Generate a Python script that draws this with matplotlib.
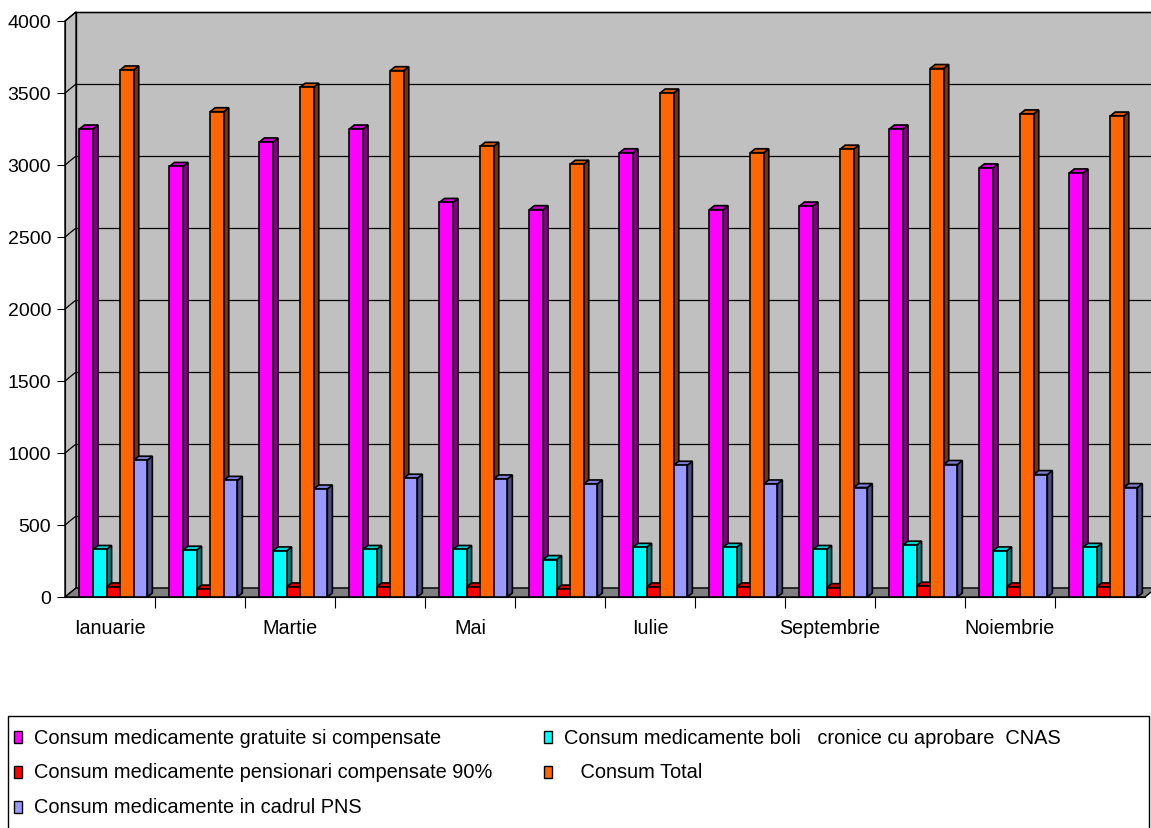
import matplotlib.pyplot as plt
from matplotlib.patches import Polygon, Rectangle
import numpy as np

plt.rcParams['font.family'] = ['Liberation Sans', 'DejaVu Sans']

# date
luni = ['Ianuarie', 'Februarie', 'Martie', 'Aprilie', 'Mai', 'Iunie', 'Iulie',
        'August', 'Septembrie', 'Octombrie', 'Noiembrie', 'Decembrie']
gratuite = [3250, 2990, 3160, 3250, 2740, 2690, 3085, 2690, 2715, 3250, 2980, 2945]
cronice = [330, 325, 320, 330, 330, 260, 345, 345, 330, 360, 320, 345]
pensionari = [70, 55, 70, 70, 70, 55, 70, 70, 65, 75, 70, 70]
total = [3660, 3370, 3540, 3655, 3130, 3005, 3500, 3085, 3110, 3670, 3355, 3340]
pns = [950, 810, 750, 825, 820, 785, 915, 785, 760, 920, 850, 760]

serii = ['Consum medicamente gratuite si compensate',
         'Consum medicamente boli   cronice cu aprobare  CNAS',
         'Consum medicamente pensionari compensate 90%',
         '   Consum Total',
         'Consum medicamente in cadrul PNS']
valori = [gratuite, cronice, pensionari, total, pns]
culori = ['#FF00FF', '#00FFFF', '#FF0000', '#FF6600', '#9999FF']
laturi = ['#800080', '#008080', '#800000', '#803300', '#4C4C80']

W, H = 1151, 829
fig = plt.figure(figsize=(W / 100, H / 100), dpi=100)
ax = fig.add_axes([65 / W, 231 / H, 1080 / W, 576 / H])
ax.set_xlim(-0.5, 11.5)
ax.set_ylim(0, 4000)
ax.patch.set_visible(False)

# conversie pixeli -> unitati de date
px_x = 1 / 90.0
px_y = 4000 / 576.0

# pereti (efect 3D)
wdx, wdy = 11 * px_x, 9 * px_y
xr = 11.5
ax.add_patch(Polygon([(-0.5 + wdx, wdy), (xr + wdx, wdy), (xr + wdx, 4000 + wdy),
                      (-0.5 + wdx, 4000 + wdy)], closed=True, fc='#C0C0C0',
                     ec='black', lw=1, clip_on=False, zorder=0))
ax.add_patch(Polygon([(-0.5, 0), (-0.5 + wdx, wdy), (-0.5 + wdx, 4000 + wdy),
                      (-0.5, 4000)], closed=True, fc='#C0C0C0', ec='black',
                     lw=1, clip_on=False, zorder=0.5))
ax.add_patch(Polygon([(-0.5, 0), (xr, 0), (xr + wdx, wdy), (-0.5 + wdx, wdy)],
                     closed=True, fc='#808080', ec='black', lw=1,
                     clip_on=False, zorder=0.6))
for v in range(500, 4001, 500):
    ax.plot([-0.5 + wdx, xr + wdx], [v + wdy, v + wdy], color='black', lw=0.9,
            clip_on=False, zorder=0.4)
    ax.plot([-0.5, -0.5 + wdx], [v, v + wdy], color='black', lw=0.9,
            clip_on=False, zorder=0.7)

# bare 3D
bw = 0.151
ddx, ddy = 5 * px_x, 4 * px_y
x0 = np.arange(len(luni)) - 0.5 + 0.16
z = 2
for i in range(len(luni)):
    for k in range(len(valori)):
        xl = x0[i] + k * bw
        v = valori[k][i]
        ax.add_patch(Polygon([(xl + bw, 0), (xl + bw + ddx, ddy),
                              (xl + bw + ddx, v + ddy), (xl + bw, v)],
                             closed=True, fc=laturi[k], ec='black', lw=1.2,
                             zorder=z, clip_on=False))
        top = tuple(c * 0.82 for c in plt.matplotlib.colors.to_rgb(culori[k]))
        ax.add_patch(Polygon([(xl, v), (xl + ddx, v + ddy),
                              (xl + bw + ddx, v + ddy), (xl + bw, v)],
                             closed=True, fc=top, ec='black', lw=1.2,
                             zorder=z, clip_on=False))
        ax.bar(xl, v, width=bw, align='edge', color=culori[k],
               edgecolor='black', linewidth=1.2, zorder=z + 0.1)
        z += 0.2

# axe
for s in ['top', 'right']:
    ax.spines[s].set_visible(False)
ax.spines['left'].set_zorder(1)
ax.set_yticks(range(0, 4001, 500))
ax.tick_params(axis='y', length=6, pad=4, labelsize=14)
ax.set_xticks(np.arange(0.5, 11, 1))
ax.set_xticklabels([])
ax.tick_params(axis='x', which='major', length=8)
ax.set_xticks(np.arange(0, 12, 2), minor=True)
ax.set_xticklabels(luni[::2], minor=True)
ax.tick_params(axis='x', which='minor', length=0, pad=15, labelsize=14.2)

# legenda
lg = fig.add_axes([0, 0, 1, 1])
lg.set_xlim(0, W)
lg.set_ylim(H, 0)
lg.axis('off')
lg.add_patch(Rectangle((8, 717), 1141, 130, fc='white', ec='black', lw=1,
                       clip_on=False))
poz = [(14, 738), (544, 738), (14, 773), (544, 773), (14, 808)]
for (px, py), nume, c in zip(poz, serii, culori):
    lg.add_patch(Rectangle((px, py - 6), 8, 12, fc=c, ec='black', lw=1))
    lg.text(px + 20, py, nume, fontsize=14.4, va='center', ha='left')

fig.savefig('out.png', dpi=100)
